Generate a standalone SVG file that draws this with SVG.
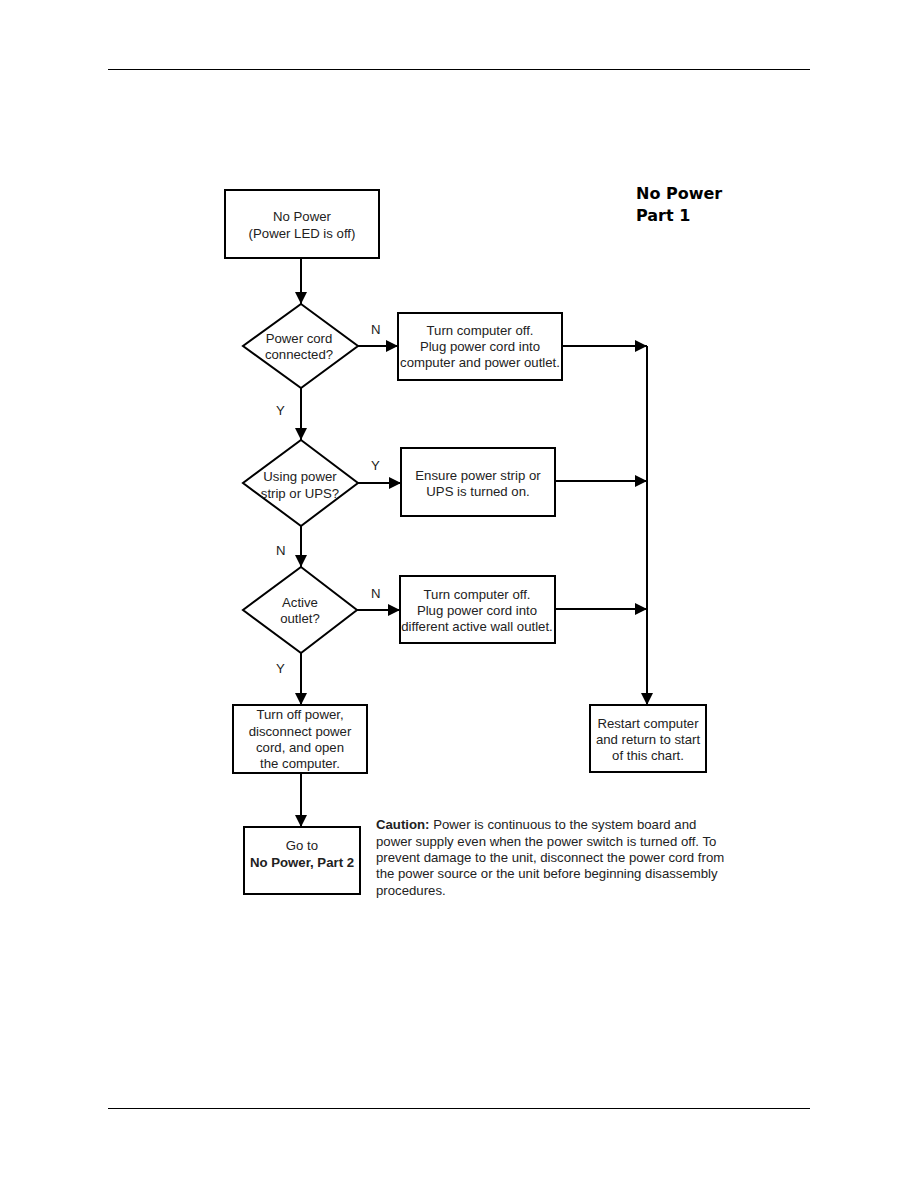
<svg xmlns="http://www.w3.org/2000/svg" width="918" height="1188" viewBox="0 0 918 1188">
<style>
.b{fill:#fff;stroke:#000;stroke-width:2}
.t{font-family:"Liberation Sans",Arial,sans-serif;font-size:13.2px;fill:#222;text-anchor:middle}
.l{font-family:"Liberation Sans",Arial,sans-serif;font-size:13.2px;fill:#222}
.c{stroke:#000;stroke-width:2;fill:none}
.h{font-family:"DejaVu Sans",sans-serif;font-size:16px;font-weight:bold;fill:#000}
</style>
<defs>
<marker id="a" viewBox="0 0 10 10" refX="10" refY="5" markerWidth="6" markerHeight="6" orient="auto" markerUnits="strokeWidth">
<path d="M0,0L10,5L0,10z" fill="#000"/>
</marker>
</defs>
<rect width="918" height="1188" fill="#fff"/>
<line x1="108" y1="69.5" x2="810" y2="69.5" stroke="#000" stroke-width="1"/>
<line x1="108" y1="1108.5" x2="810" y2="1108.5" stroke="#000" stroke-width="1"/>
<g id="title">
<text class="h" x="636" y="199">No Power</text>
<text class="h" x="636" y="221">Part 1</text>
</g>
<g id="connectors">
<line class="c" x1="301" y1="258" x2="301" y2="304" marker-end="url(#a)"/>
<line class="c" x1="357" y1="346" x2="398" y2="346" marker-end="url(#a)"/>
<line class="c" x1="562" y1="346" x2="647" y2="346" marker-end="url(#a)"/>
<line class="c" x1="647" y1="346" x2="647" y2="705" marker-end="url(#a)"/>
<line class="c" x1="301" y1="388" x2="301" y2="440" marker-end="url(#a)"/>
<line class="c" x1="358" y1="483" x2="401" y2="483" marker-end="url(#a)"/>
<line class="c" x1="555" y1="481" x2="647" y2="481" marker-end="url(#a)"/>
<line class="c" x1="301" y1="526" x2="301" y2="567" marker-end="url(#a)"/>
<line class="c" x1="357" y1="610" x2="400" y2="610" marker-end="url(#a)"/>
<line class="c" x1="555" y1="609" x2="647" y2="609" marker-end="url(#a)"/>
<line class="c" x1="301" y1="653" x2="301" y2="705" marker-end="url(#a)"/>
<line class="c" x1="301" y1="773" x2="301" y2="827" marker-end="url(#a)"/>
<text class="l" x="371" y="334">N</text>
<text class="l" x="276" y="415">Y</text>
<text class="l" x="371" y="470">Y</text>
<text class="l" x="276" y="555">N</text>
<text class="l" x="371" y="598">N</text>
<text class="l" x="276" y="673">Y</text>
</g>
<g id="n1">
<rect class="b" x="225" y="190" width="154" height="68"/>
<text class="t" x="302" y="221">No Power</text>
<text class="t" x="302" y="238">(Power LED is off)</text>
</g>
<g id="d1">
<polygon class="b" points="301,304 358,346 301,388 243,346"/>
<text class="t" x="299" y="343">Power cord</text>
<text class="t" x="299" y="359">connected?</text>
</g>
<g id="n2">
<rect class="b" x="398" y="313" width="164" height="67"/>
<text class="t" x="480" y="335">Turn computer off.</text>
<text class="t" x="480" y="351">Plug power cord into</text>
<text class="t" x="480" y="367">computer and power outlet.</text>
</g>
<g id="d2">
<polygon class="b" points="301,440 358,483 301,526 243,483"/>
<text class="t" x="300" y="481">Using power</text>
<text class="t" x="300" y="498">strip or UPS?</text>
</g>
<g id="n3">
<rect class="b" x="401" y="448" width="154" height="68"/>
<text class="t" x="478" y="480">Ensure power strip or</text>
<text class="t" x="478" y="496">UPS is turned on.</text>
</g>
<g id="d3">
<polygon class="b" points="301,567 357,610 301,653 243,610"/>
<text class="t" x="300" y="607">Active</text>
<text class="t" x="300" y="623">outlet?</text>
</g>
<g id="n4">
<rect class="b" x="400" y="576" width="155" height="67"/>
<text class="t" x="477" y="599">Turn computer off.</text>
<text class="t" x="477" y="615">Plug power cord into</text>
<text class="t" x="477" y="631">different active wall outlet.</text>
</g>
<g id="n5">
<rect class="b" x="233" y="705" width="134" height="68"/>
<text class="t" x="300" y="719">Turn off power,</text>
<text class="t" x="300" y="736">disconnect power</text>
<text class="t" x="300" y="752">cord, and open</text>
<text class="t" x="300" y="768">the computer.</text>
</g>
<g id="n6">
<rect class="b" x="244" y="827" width="116" height="67"/>
<text class="t" x="302" y="850">Go to</text>
<text class="t" x="302" y="867" font-weight="bold">No Power, Part 2</text>
</g>
<g id="n7">
<rect class="b" x="590" y="705" width="116" height="67"/>
<text class="t" x="648" y="728">Restart computer</text>
<text class="t" x="648" y="744">and return to start</text>
<text class="t" x="648" y="760">of this chart.</text>
</g>
<g id="caution">
<text class="l" x="376" y="829"><tspan font-weight="bold">Caution:</tspan> Power is continuous to the system board and</text>
<text class="l" x="376" y="846">power supply even when the power switch is turned off. To</text>
<text class="l" x="376" y="862">prevent damage to the unit, disconnect the power cord from</text>
<text class="l" x="376" y="878">the power source or the unit before beginning disassembly</text>
<text class="l" x="376" y="895">procedures.</text>
</g>
</svg>
